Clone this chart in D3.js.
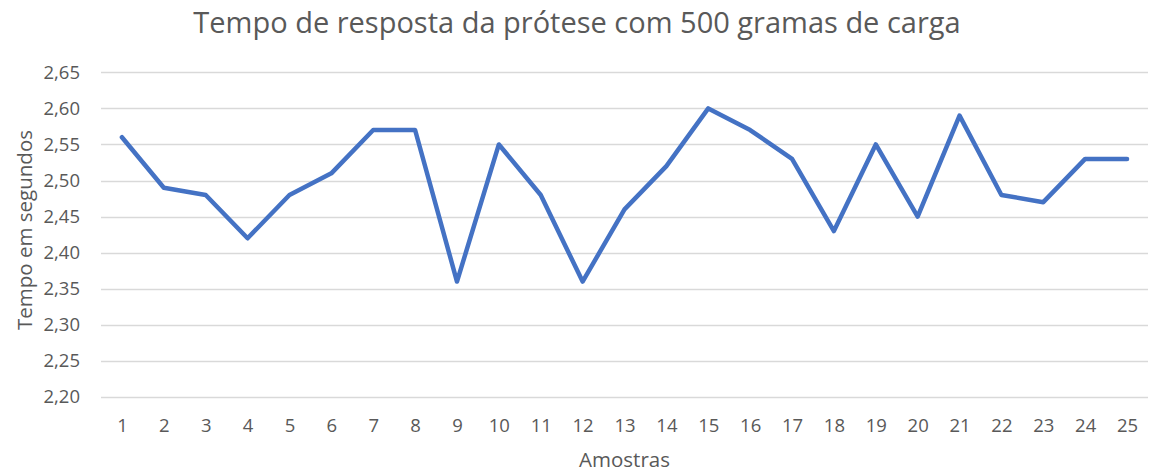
<!DOCTYPE html>
<html>
<head>
<meta charset="utf-8">
<script src="https://cdn.jsdelivr.net/npm/d3@7"></script>
<style>
  html, body { margin: 0; padding: 0; background: #fff; }
  svg { display: block; font-family: "Open Sans", "Noto Sans", sans-serif; }
</style>
</head>
<body>
<svg id="chart" width="1155" height="472"></svg>
<script>
// Amostras (sample numbers) and response time in seconds
const amostras = d3.range(1, 26);
const tempos = [2.56, 2.49, 2.48, 2.42, 2.48, 2.51, 2.57, 2.57, 2.36, 2.55,
                2.48, 2.36, 2.46, 2.52, 2.60, 2.57, 2.53, 2.43, 2.55, 2.45,
                2.59, 2.48, 2.47, 2.53, 2.53];
const yTicks = [2.20, 2.25, 2.30, 2.35, 2.40, 2.45, 2.50, 2.55, 2.60, 2.65];

const titulo = "Tempo de resposta da prótese com 500 gramas de carga";
const rotuloX = "Amostras";
const rotuloY = "Tempo em segundos";

const svg = d3.select("#chart");
const plot = { left: 101, right: 1148, top: 72.3, bottom: 397 };
const textColor = "#595959";

const x = d3.scalePoint()
  .domain(amostras)
  .range([plot.left, plot.right])
  .padding(0.5);

const y = d3.scaleLinear()
  .domain([2.20, 2.65])
  .range([plot.bottom, plot.top]);

const fmt = v => d3.format(".2f")(v).replace(".", ",");

// horizontal gridlines
svg.append("g")
  .selectAll("line")
  .data(yTicks)
  .join("line")
  .attr("x1", plot.left)
  .attr("x2", plot.right)
  .attr("y1", d => Math.round(y(d)) + 0.5)
  .attr("y2", d => Math.round(y(d)) + 0.5)
  .attr("stroke", "#d9d9d9")
  .attr("stroke-width", 1.3);

// y axis
const yAxis = svg.append("g")
  .attr("transform", `translate(${plot.left - 18},0)`)
  .call(d3.axisLeft(y).tickValues(yTicks).tickFormat(fmt).tickSize(0));
yAxis.select(".domain").remove();
yAxis.selectAll("text")
  .attr("fill", textColor)
  .attr("font-size", 18.5)
  .attr("font-family", "\"Open Sans\", sans-serif");

// x axis
const xAxis = svg.append("g")
  .attr("transform", `translate(0,${plot.bottom + 19})`)
  .call(d3.axisBottom(x).tickSize(0));
xAxis.select(".domain").remove();
xAxis.selectAll("text")
  .attr("fill", textColor)
  .attr("font-size", 18.5)
  .attr("font-family", "\"Open Sans\", sans-serif");

// data line
svg.append("path")
  .datum(tempos)
  .attr("fill", "none")
  .attr("stroke", "#4472C4")
  .attr("stroke-width", 4.5)
  .attr("stroke-linejoin", "round")
  .attr("stroke-linecap", "round")
  .attr("d", d3.line()
    .x((d, i) => x(amostras[i]))
    .y(d => y(d)));

// title
svg.append("text")
  .attr("x", 577)
  .attr("y", 33)
  .attr("text-anchor", "middle")
  .attr("fill", textColor)
  .attr("font-size", 29)
  .text(titulo);

// axis titles
svg.append("text")
  .attr("x", (plot.left + plot.right) / 2)
  .attr("y", 467)
  .attr("text-anchor", "middle")
  .attr("fill", textColor)
  .attr("font-size", 20.5)
  .text(rotuloX);

svg.append("text")
  .attr("transform", "translate(32,230) rotate(-90)")
  .attr("text-anchor", "middle")
  .attr("fill", textColor)
  .attr("font-size", 20.5)
  .text(rotuloY);
</script>
</body>
</html>
